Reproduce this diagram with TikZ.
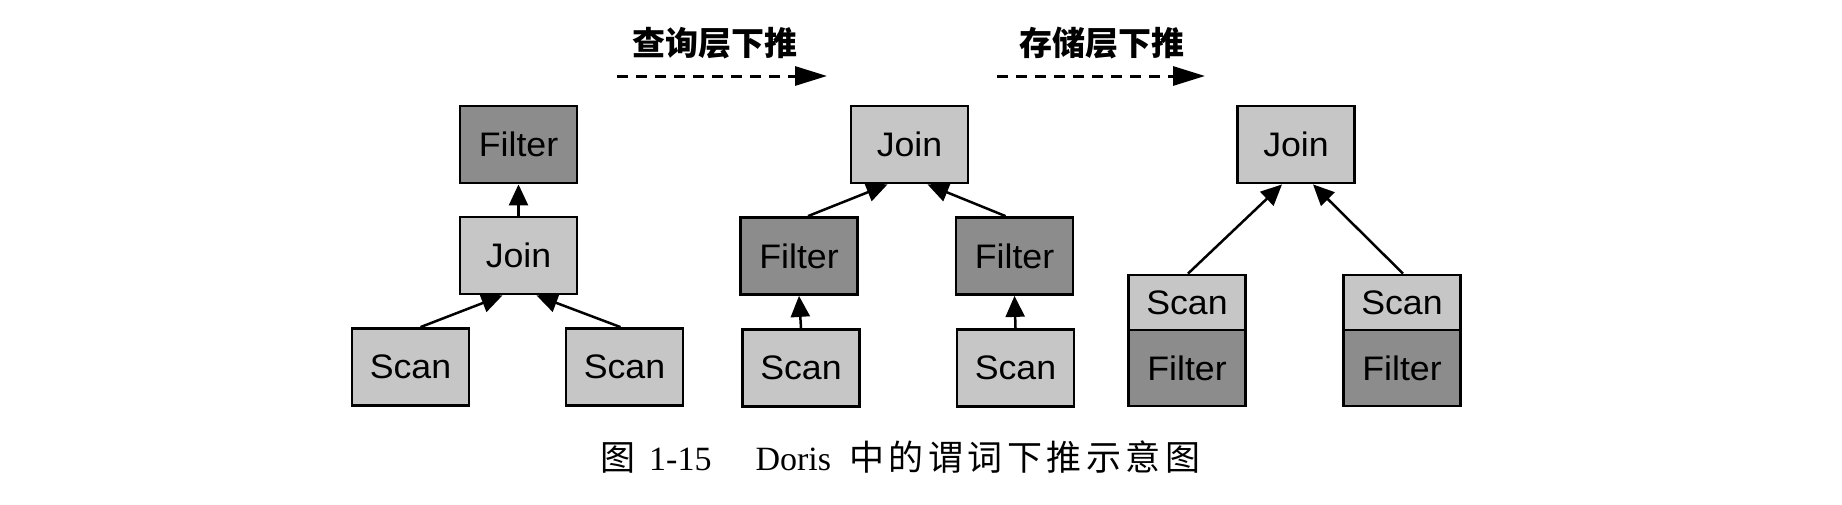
\documentclass[tikz,border=0pt]{standalone}
\usepackage{fontspec}
\usetikzlibrary{arrows.meta}
\newfontfamily\boxfont[FakeStretch=1.05]{Liberation Sans}
\newfontfamily\cjk{Noto Sans CJK SC}
\newfontfamily\cjkcap[LetterSpace=13]{Noto Sans CJK SC}
\newfontfamily\capfont{Liberation Serif}
\definecolor{lightbox}{RGB}{198,198,198}
\definecolor{darkbox}{RGB}{140,140,140}
\tikzset{
  opbox/.style={draw=black, line width=2.8pt, minimum width=117pt, minimum height=77pt,
    inner sep=0pt, font=\boxfont\fontsize{34}{40}\selectfont, text=black},
  lightop/.style={opbox, fill=lightbox},
  darkop/.style={opbox, fill=darkbox},
  halfop/.style={opbox, minimum height=55pt},
  flow/.style={line width=2.5pt, -{Triangle[length=21pt,width=19pt]}},
  push/.style={line width=3pt, dash pattern=on 11pt off 8pt, -{Triangle[length=32pt,width=19pt]}},
  pushlabel/.style={font=\cjk\bfseries\fontsize{33}{38}\selectfont, inner sep=0pt},
}
\begin{document}
\begin{tikzpicture}[x=1pt,y=-1pt]
\useasboundingbox[fill=white] (0,0) rectangle (1842,504);
% left tree
\node[darkop]  (F1) at (518.5,144.5) {Filter};
\node[lightop] (J1) at (518.5,255.5) {Join};
\node[lightop] (S1) at (410.5,367) {Scan};
\node[lightop] (S2) at (624.5,367) {Scan};
\draw[flow] (J1.north) -- (F1.south);
\draw[flow] ([xshift=10pt]S1.north) -- ([xshift=-16pt]J1.south);
\draw[flow] ([xshift=-4pt]S2.north) -- ([xshift=18pt]J1.south);
% middle tree
\node[lightop] (J2) at (909.5,144.5) {Join};
\node[darkop]  (F2) at (799,256) {Filter};
\node[darkop]  (F3) at (1014.5,256) {Filter};
\node[lightop] (S3) at (801,368) {Scan};
\node[lightop] (S4) at (1015.5,368) {Scan};
\draw[flow] ([xshift=9pt]F2.north) -- ([xshift=-22pt]J2.south);
\draw[flow] ([xshift=-9pt]F3.north) -- ([xshift=18pt]J2.south);
\draw[flow] (S3.north) -- (F2.south);
\draw[flow] (S4.north) -- (F3.south);
% right tree
\node[lightop] (J3) at (1296,144.5) {Join};
\node[halfop, fill=lightbox] (SL) at (1187,302.5) {Scan};
\node[opbox, fill=darkbox, minimum height=76pt] (FL) at (1187,368) {Filter};
\node[halfop, fill=lightbox] (SR) at (1402,302.5) {Scan};
\node[opbox, fill=darkbox, minimum height=76pt] (FR) at (1402,368) {Filter};
\draw[flow] ([xshift=1pt]SL.north) -- ([xshift=-14pt]J3.south);
\draw[flow] ([xshift=1pt]SR.north) -- ([xshift=17pt]J3.south);
% push-down arrows
\coordinate (a1s) at (617,76);
\coordinate (a1e) at (827,76);
\coordinate (a2s) at (997,76);
\coordinate (a2e) at (1205,76);
\draw[push] (a1s) -- (a1e);
\draw[push] (a2s) -- (a2e);
\node[pushlabel] (L1) at (715,43) {查询层下推};
\node[pushlabel] (L2) at (1102,43) {存储层下推};
% caption
\node[anchor=west, inner sep=0pt] (cap) at (600,457)
  {\fontsize{34}{40}\selectfont{\cjk\fontsize{35}{40}\selectfont 图}\hspace{14pt}{\capfont 1-15}\hspace{44pt}{\capfont Doris}\hspace{18pt}{\cjkcap\fontsize{35}{40}\selectfont 中的谓词下推示意图}};
\end{tikzpicture}
\end{document}
